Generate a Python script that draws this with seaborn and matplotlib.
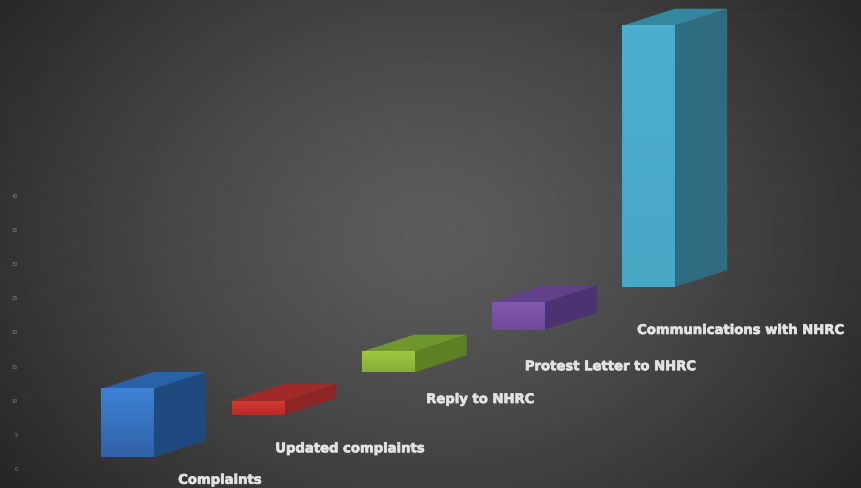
import numpy as np
import matplotlib
matplotlib.use("Agg")
import matplotlib.pyplot as plt
import matplotlib.patheffects as pe
import seaborn as sns

# data
categories = ["Complaints", "Updated complaints", "Reply to NHRC",
              "Protest Letter to NHRC", "Communications with NHRC"]
values = [10, 2, 3, 4, 38.2]
yticks = [0, 5, 10, 15, 20, 25, 30, 35, 40]

# colours per bar
front_top = ["#3d82d6", "#d83a34", "#9fca42", "#8059b0", "#4bafcd"]
front_bottom = ["#2f62a6", "#b32c28", "#86ad36", "#6f4b9c", "#47a8c6"]
top_col = ["#2a62a8", "#a02a28", "#6f962b", "#5f4089", "#35879f"]
side_col = ["#1f4a80", "#8c2524", "#5e7f24", "#4a3370", "#2f6c82"]

# projection of the fake 3d, in data units
step = 6.22      # front base rises per category
base0 = 1.75
dx, dy = 0.40, 2.49
bar_w = 0.405
label_dx = 0.71
label_y = [-1.6, 3.0, 10.2, 15.0, 20.3]

sns.set_style("white")
f, ax = plt.subplots(figsize=(8.61, 4.88), dpi=100)
ax.set_position([0, 0, 1, 1])

sns.barplot(x=categories, y=values, hue=categories, palette=front_top,
            width=bar_w, saturation=1, legend=False, ax=ax, zorder=3)

xlim = (-0.98, 5.63)
ylim = (-2.73, 68.6)

# background
yy, xx = np.mgrid[0:1:244j, 0:1:431j]
r = np.sqrt(((xx - 0.5) / 0.62) ** 2 + ((yy - 0.48) / 0.85) ** 2)
bg = 0.36 - 0.21 * np.clip(r, 0, 1) ** 1.3
ax.imshow(bg, extent=(*xlim, *ylim), origin="upper", aspect="auto",
          cmap="gray", vmin=0, vmax=1, zorder=0)

# faint gridlines, side wall then back wall
corner_x = (572 - 127.5) / 130
end_x = (805 - 127.5) / 130
left_x = (22 - 127.5) / 130
slope = dy / dx
for t in yticks:
    y_back = t + slope * (corner_x - left_x)
    ax.plot([left_x, corner_x, end_x], [t, y_back, y_back], color="white",
            alpha=0.025, lw=0.7, zorder=1)

# front faces moved up the floor, then top and side faces
for i, bar in enumerate(ax.patches):
    b = base0 + step * i
    v = values[i]
    x0 = bar.get_x()
    x1 = x0 + bar_w
    bar.set_y(b)
    bar.set_edgecolor("none")
    grad = np.linspace(0, 1, 64)[:, None, None]
    c0 = np.array(matplotlib.colors.to_rgb(front_top[i]))
    c1 = np.array(matplotlib.colors.to_rgb(front_bottom[i]))
    ax.imshow(c0 + (c1 - c0) * grad, extent=(x0, x1, b, b + v), origin="upper",
              aspect="auto", zorder=3.5)
    ax.fill([x0, x1, x1 + dx, x0 + dx],
            [b + v, b + v, b + v + dy, b + v + dy], color=top_col[i], lw=0, zorder=3)
    ax.fill([x1, x1 + dx, x1 + dx, x1],
            [b, b + dy, b + v + dy, b + v], color=side_col[i], lw=0, zorder=3)
    ax.text(i + label_dx, label_y[i], categories[i], color="#e2e2e2", fontsize=9.5,
            fontweight="bold", ha="center", va="center", zorder=4,
            path_effects=[pe.withStroke(linewidth=0.5, foreground="#e2e2e2")])

ax.set_xlim(*xlim)
ax.set_ylim(*ylim)
ax.set_xticks([])
ax.set_yticks(yticks)
ax.tick_params(axis="y", direction="in", length=0, pad=-13, labelsize=3.5,
               labelcolor="#8a8a8a")
ax.set_ylabel("")
sns.despine(ax=ax, left=True, bottom=True)

plt.savefig("out.png", dpi=100)
